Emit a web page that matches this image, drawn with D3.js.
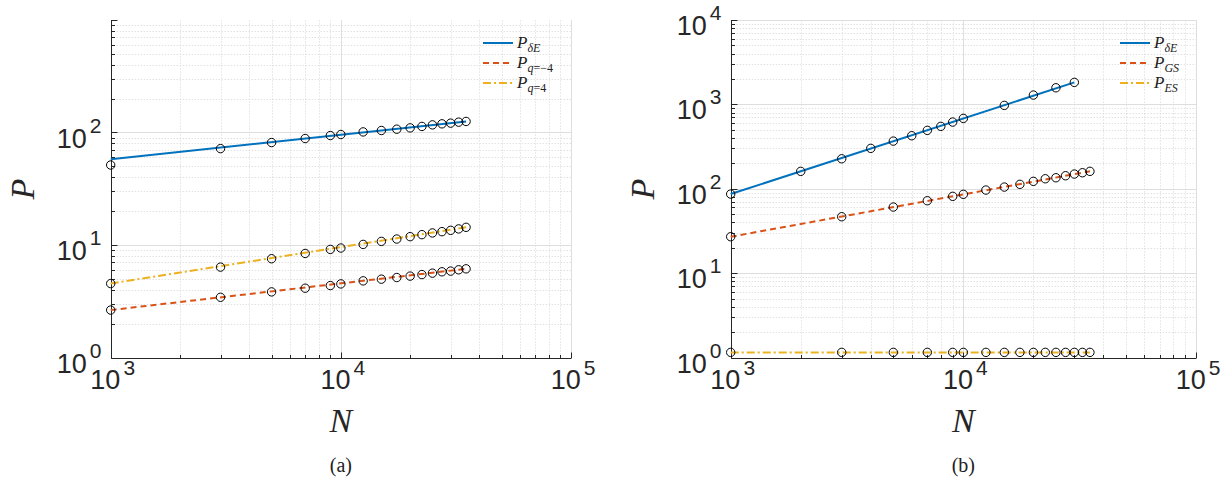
<!DOCTYPE html>
<html>
<head>
<meta charset="utf-8">
<script src="https://cdn.jsdelivr.net/npm/d3@7"></script>
<style>
  body { margin: 0; background: #fff; }
  svg { display: block; }
  .sans { font-family: 'Liberation Sans', Arial, sans-serif; }
  .serif { font-family: 'Liberation Serif', 'Times New Roman', serif; }
</style>
</head>
<body>
<svg id="chart" width="1228" height="489"></svg>
<script>
// ---- data ----
// panel (a)
const nA = [1000, 3000, 5000, 7000, 9000, 10000, 12500, 15000, 17500, 20000, 22500, 25000, 27500, 30000, 32500, 35000];
const pDeltaA = [51.4, 71.9, 81.4, 88.4, 94.0, 96.0, 101.2, 104.2, 107.0, 109.9, 113.2, 116.9, 119.4, 121.1, 123.6, 125.4];
const pQm4A = [2.64, 3.43, 3.83, 4.13, 4.36, 4.51, 4.80, 4.97, 5.14, 5.29, 5.46, 5.62, 5.78, 5.86, 6.02, 6.14];
const pQp4A = [4.54, 6.36, 7.55, 8.41, 9.14, 9.40, 10.12, 10.77, 11.30, 11.86, 12.36, 12.80, 13.14, 13.50, 13.90, 14.36];
// fitted lines (end points)
const fitNA = [1000, 35000];
const fitDeltaA = [57.8, 125.4];
const fitQm4A = [2.64, 6.14];
const fitQp4A = [4.54, 14.36];

// panel (b)
const nDeltaB = [1000, 2000, 3000, 4000, 5000, 6000, 7000, 8000, 9000, 10000, 15000, 20000, 25000, 30000];
const pDeltaB = [86.5, 160.8, 226.6, 301, 367, 425, 492, 549, 617, 682, 973, 1289, 1573, 1823];
const nB = [1000, 3000, 5000, 7000, 9000, 10000, 12500, 15000, 17500, 20000, 22500, 25000, 27500, 30000, 32500, 35000];
const pGSB = [27.0, 46.6, 60.7, 72.1, 81.3, 85.9, 96.5, 104.7, 112.8, 122.4, 131.3, 135.0, 142.6, 149.4, 154.8, 160.8];
const pESB = [1.15, 1.15, 1.15, 1.15, 1.15, 1.15, 1.15, 1.15, 1.15, 1.15, 1.15, 1.15, 1.15, 1.15, 1.15, 1.15];
const fitNDeltaB = [1000, 30000];
const fitDeltaB = [86.5, 1823];
const fitNB = [1000, 35000];
const fitGSB = [27.0, 160.8];
const fitESB = [1.15, 1.15];

const xTicks = [1e3, 1e4, 1e5];
const yTicksA = [1, 10, 100];
const yTicksB = [1, 10, 100, 1000, 10000];

const blue = "#0072BD", red = "#D95319", yellow = "#EDB120";
const axisColor = "#262626";

const svg = d3.select("#chart");

function drawPanel(opt) {
  const x = d3.scaleLog().domain([1e3, 1e5]).range(opt.xr);
  const y = d3.scaleLog().domain(opt.yd).range([357.5, 20]);
  const g = svg.append("g");

  const isPow = v => Math.abs(Math.log10(v) - Math.round(Math.log10(v))) < 1e-9;
  const xMinor = x.ticks().filter(v => !isPow(v));
  const yMinor = y.ticks().filter(v => !isPow(v));

  // minor grid
  g.selectAll(".mgx").data(xMinor).enter().append("line")
    .attr("x1", d => Math.round(x(d)) + 0.5).attr("x2", d => Math.round(x(d)) + 0.5)
    .attr("y1", y.range()[0]).attr("y2", y.range()[1])
    .attr("stroke", "#d4d4d4").attr("stroke-dasharray", "1,2");
  g.selectAll(".mgy").data(yMinor).enter().append("line")
    .attr("y1", d => Math.round(y(d)) + 0.5).attr("y2", d => Math.round(y(d)) + 0.5)
    .attr("x1", x.range()[0]).attr("x2", x.range()[1])
    .attr("stroke", "#d4d4d4").attr("stroke-dasharray", "1,2");
  // major grid
  g.selectAll(".gx").data(xTicks.slice(1)).enter().append("line")
    .attr("x1", d => Math.round(x(d)) + 0.5).attr("x2", d => Math.round(x(d)) + 0.5)
    .attr("y1", y.range()[0]).attr("y2", y.range()[1])
    .attr("stroke", "#dedede");
  g.selectAll(".gy").data(opt.yTicks.slice(1)).enter().append("line")
    .attr("y1", d => Math.round(y(d)) + 0.5).attr("y2", d => Math.round(y(d)) + 0.5)
    .attr("x1", x.range()[0]).attr("x2", x.range()[1])
    .attr("stroke", "#dedede");

  // axes lines + inward ticks
  const x0 = Math.round(x.range()[0]) + 0.5, yb = Math.round(y.range()[0]) + 0.5;
  g.append("line").attr("x1", x0).attr("x2", x0).attr("y1", y.range()[1]).attr("y2", yb)
    .attr("stroke", axisColor);
  g.append("line").attr("x1", x0).attr("x2", x.range()[1]).attr("y1", yb).attr("y2", yb)
    .attr("stroke", axisColor);
  g.selectAll(".ty").data(y.ticks()).enter().append("line")
    .attr("y1", d => Math.round(y(d)) + 0.5).attr("y2", d => Math.round(y(d)) + 0.5)
    .attr("x1", x0).attr("x2", d => x0 + (isPow(d) ? 6 : 3.5))
    .attr("stroke", axisColor);
  g.selectAll(".tx").data(x.ticks()).enter().append("line")
    .attr("x1", d => Math.round(x(d)) + 0.5).attr("x2", d => Math.round(x(d)) + 0.5)
    .attr("y1", yb).attr("y2", d => yb - (isPow(d) ? 6 : 3.5))
    .attr("stroke", axisColor);

  // tick labels
  const yl = g.selectAll(".yl").data(opt.yTicks).enter().append("text")
    .attr("class", "sans")
    .attr("x", x0 - 10).attr("y", d => y(d) + 15)
    .attr("text-anchor", "end")
    .attr("fill", axisColor);
  yl.append("tspan").attr("font-size", 27).text("10");
  yl.append("tspan").attr("font-size", 21).attr("dx", 3).attr("dy", -15)
    .text(d => Math.round(Math.log10(d)));

  const xl = g.selectAll(".xl").data(xTicks).enter().append("text")
    .attr("class", "sans")
    .attr("x", d => x(d) + 2).attr("y", 389)
    .attr("text-anchor", "middle")
    .attr("fill", axisColor);
  xl.append("tspan").attr("font-size", 27).text("10");
  xl.append("tspan").attr("font-size", 21).attr("dx", 3).attr("dy", -14)
    .text(d => Math.round(Math.log10(d)));

  // axis titles
  const cx = (x.range()[0] + x.range()[1]) / 2;
  g.append("text").attr("class", "serif").attr("x", cx).attr("y", 432)
    .attr("text-anchor", "middle")
    .attr("font-style", "italic").attr("font-size", 34).attr("fill", axisColor).text("N");
  g.append("text").attr("class", "serif")
    .attr("transform", `translate(${x0 - 78},189) rotate(-90)`)
    .attr("text-anchor", "middle")
    .attr("font-style", "italic").attr("font-size", 34).attr("fill", axisColor).text("P");
  g.append("text").attr("class", "serif").attr("x", cx).attr("y", 472)
    .attr("text-anchor", "middle")
    .attr("font-size", 20).attr("fill", "#222").text(opt.caption);

  // series
  const line = d3.line().x(d => x(d[0])).y(d => y(d[1]));
  opt.series.forEach(s => {
    g.append("path")
      .attr("d", line(s.fitN.map((n, i) => [n, s.fit[i]])))
      .attr("fill", "none").attr("stroke", s.color).attr("stroke-width", 2)
      .attr("stroke-dasharray", s.dash);
  });
  opt.series.forEach(s => {
    g.selectAll(null).data(s.n.map((n, i) => [n, s.p[i]])).enter().append("circle")
      .attr("cx", d => x(d[0])).attr("cy", d => y(d[1])).attr("r", 4.2)
      .attr("fill", "none").attr("stroke", "#000").attr("stroke-width", 1);
  });

  // legend
  const lg = g.append("g").attr("transform", `translate(${opt.legendX},43)`);
  opt.series.forEach((s, i) => {
    const row = lg.append("g").attr("transform", `translate(0,${i * 20})`);
    row.append("line").attr("x1", 0).attr("x2", 30).attr("y1", 0).attr("y2", 0)
      .attr("stroke", s.color).attr("stroke-width", 2).attr("stroke-dasharray", s.dash);
    const t = row.append("text").attr("class", "serif").attr("x", 34).attr("y", 5)
      .attr("fill", "#222");
    t.append("tspan").attr("font-style", "italic").attr("font-size", 17).text("P");
    s.sub.forEach((part, k) => {
      t.append("tspan").attr("font-size", 12)
        .attr("font-style", part[1] ? "italic" : "normal")
        .attr("dy", k === 0 ? 4 : 0).text(part[0]);
    });
  });
}

drawPanel({
  xr: [110.7, 571], yd: [1, 1000], yTicks: yTicksA, caption: "(a)", legendX: 483,
  series: [
    { n: nA, p: pDeltaA, fitN: fitNA, fit: fitDeltaA, color: blue, dash: null, sub: [["δE", true]] },
    { n: nA, p: pQm4A, fitN: fitNA, fit: fitQm4A, color: red, dash: "6,4", sub: [["q", true], ["=−4", false]] },
    { n: nA, p: pQp4A, fitN: fitNA, fit: fitQp4A, color: yellow, dash: "8,3,2,3", sub: [["q", true], ["=4", false]] }
  ]
});

drawPanel({
  xr: [730.7, 1196], yd: [1, 10000], yTicks: yTicksB, caption: "(b)", legendX: 1120,
  series: [
    { n: nDeltaB, p: pDeltaB, fitN: fitNDeltaB, fit: fitDeltaB, color: blue, dash: null, sub: [["δE", true]] },
    { n: nB, p: pGSB, fitN: fitNB, fit: fitGSB, color: red, dash: "6,4", sub: [["GS", true]] },
    { n: nB, p: pESB, fitN: fitNB, fit: fitESB, color: yellow, dash: "8,3,2,3", sub: [["ES", true]] }
  ]
});
</script>
</body>
</html>
